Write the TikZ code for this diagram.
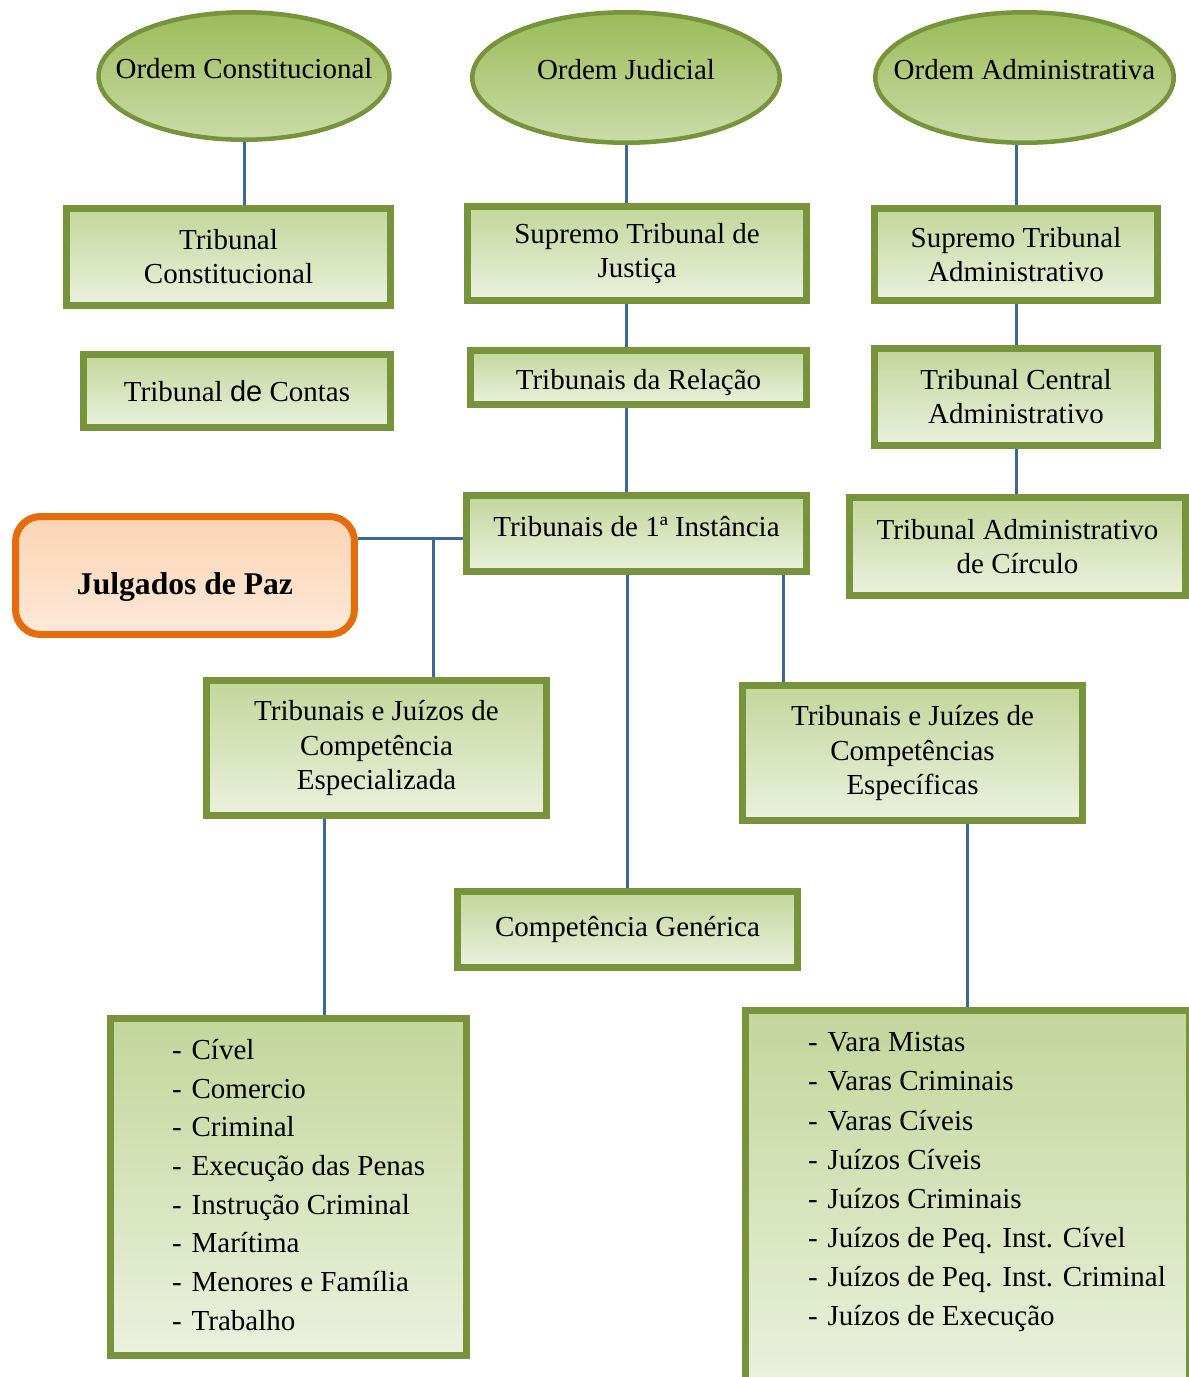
\documentclass[tikz,border=0pt]{standalone}
\usepackage{fontspec}
\setmainfont{Liberation Serif}
\newfontfamily\arialfont{Liberation Sans}
\usetikzlibrary{shapes,backgrounds}
\definecolor{verdeborda}{HTML}{77933C}
\definecolor{verdeclaro}{HTML}{EBF1DE}
\definecolor{verdemedio}{HTML}{C3D69B}
\definecolor{verdeescuro}{HTML}{9BBB59}
\definecolor{laranja}{HTML}{E46C0A}
\definecolor{laranjaclaro}{HTML}{FDE9D9}
\definecolor{laranjamedio}{HTML}{FBD4B4}
\definecolor{azul}{HTML}{3D669D}
\tikzstyle{ordem} = [ellipse, line width=0.09cm, draw=verdeborda, top color=verdeescuro, bottom color=verdemedio!80!verdeclaro, inner sep=0pt]
\tikzstyle{caixa} = [rectangle, line width=0.14cm, draw=verdeborda, top color=verdemedio, bottom color=verdeclaro, align=center]
\tikzstyle{lista} = [rectangle, line width=0.14cm, draw=verdeborda, top color=verdemedio, bottom color=verdeclaro, inner sep=0pt]
\tikzstyle{julgado} = [rectangle, rounded corners=0.5cm, line width=0.14cm, draw=laranja, top color=laranjamedio, bottom color=laranjaclaro, font=\fontsize{18}{22}\selectfont\bfseries]
\tikzstyle{linha} = [line width=0.06cm, draw=azul]

\begin{document}
\begin{tikzpicture}[x=0.02cm, y=-0.02cm, font=\fontsize{16.5}{19.4}\selectfont]
        \useasboundingbox (0,0) rectangle (1189,1377);
        \node (oc) [ordem, minimum width=5.82cm, minimum height=2.55cm] at (244,76) {\raisebox{-0.04cm}[0pt][0pt]{\makebox[0pt]{Ordem Constitucional}}};
        \node (oj) [ordem, minimum width=6.15cm, minimum height=2.61cm] at (626,77.5) {\raisebox{-0.04cm}[0pt][0pt]{\makebox[0pt]{Ordem Judicial}}};
        \node (oa) [ordem, minimum width=5.97cm, minimum height=2.61cm] at (1024.5,77.5) {\raisebox{-0.04cm}[0pt][0pt]{\makebox[0pt]{Ordem Administrativa}}};
        \node (tc) [caixa, minimum width=6.48cm, minimum height=1.94cm] at (228.5,257) {Tribunal\\Constitucional};
        \node (tcontas) [caixa, minimum width=6.14cm, minimum height=1.46cm] at (237,391) {Tribunal {\arialfont de} Contas};
        \node (stj) [caixa, minimum width=6.78cm, minimum height=1.88cm] at (637,253.5) {Supremo Tribunal de\\Justiça};
        \node (rel) [caixa, minimum width=6.72cm, minimum height=1.08cm, text height=0.49cm, text depth=0cm] at (638.5,377.5) {Tribunais da Relação};
        \node (inst1) [caixa, minimum width=6.80cm, minimum height=1.52cm, text height=0.4cm, text depth=0.27cm] at (636.5,533.5) {Tribunais de 1ª Instância};
        \node (sta) [caixa, minimum width=5.66cm, minimum height=1.84cm] at (1016,254.5) {Supremo Tribunal\\Administrativo};
        \node (tca) [caixa, minimum width=5.66cm, minimum height=1.94cm] at (1016,397) {Tribunal Central\\Administrativo};
        \node (tac) [caixa, minimum width=6.72cm, minimum height=1.96cm] at (1017.5,546.5) {Tribunal Administrativo\\de Círculo};
        \node (paz) [julgado, minimum width=6.78cm, minimum height=2.36cm] at (185,575.5) {\raisebox{-0.38cm}[0pt][0pt]{\makebox[0pt]{Julgados de Paz}}};
        \node (esp) [caixa, minimum width=6.80cm, minimum height=2.70cm] at (376.5,748) {Tribunais e Juízos de\\Competência\\Especializada};
        \node (espc) [caixa, minimum width=6.80cm, minimum height=2.70cm] at (912.5,753) {Tribunais e Juízes de\\Competências\\Específicas};
        \node (gen) [caixa, minimum width=6.80cm, minimum height=1.52cm] at (627.5,929.5) {Competência Genérica};
        \node (varesp) [lista, minimum width=7.12cm, minimum height=6.74cm, font=\fontsize{16.5}{22}\selectfont] at (288.5,1187) {\makebox[4.66cm][l]{\begin{tabular}{@{}l@{\hspace{0.2cm}}l@{}}
            - & Cível\\
            - & Comercio\\
            - & Criminal\\
            - & Execução das Penas\\
            - & Instrução Criminal\\
            - & Marítima\\
            - & Menores e Família\\
            - & Trabalho
        \end{tabular}}};
        \node (varespc) [lista, minimum width=8.88cm, minimum height=7.62cm, font=\fontsize{16.5}{22.3}\selectfont] at (967.5,1201) {\makebox[6.38cm][l]{\begin{tabular}{@{}l@{\hspace{0.2cm}}l@{}}
            - & Vara Mistas\\
            - & Varas Criminais\\
            - & Varas Cíveis\\
            - & Juízos Cíveis\\
            - & Juízos Criminais\\
            - & Juízos de Peq. Inst. Cível\\
            - & Juízos de Peq. Inst. Criminal\\
            - & Juízos de Execução\\[0.8cm]
        \end{tabular}}};
        \coordinate (ramo) at (433,538);
        \begin{scope}[on background layer]
        \draw [linha] (oc.south) -- (oc.south |- tc.north);
        \draw [linha] (oj.south) -- (oj.south |- stj.north);
        \draw [linha] (sta.north |- oa.south) -- (sta.north);
        \draw [linha] (stj.south -| oj.south) -- (rel.north -| oj.south);
        \draw [linha] (rel.south -| oj.south) -- (inst1.north -| oj.south);
        \draw [linha] (sta.south) -- (sta.south |- tca.north);
        \draw [linha] (tca.south) -- (tca.south |- tac.north);
        \draw [linha] ([yshift=-0.09cm]inst1.west) -- ([yshift=-0.09cm]inst1.west -| paz.east);
        \draw [linha] (ramo) -- (ramo |- esp.north);
        \draw [linha] ([xshift=-0.53cm]inst1.south east) -- ([xshift=-0.53cm]inst1.south east |- espc.north);
        \draw [linha] (gen.north) -- (gen.north |- inst1.south);
        \draw [linha] ([xshift=-1.05cm]esp.south) -- ([xshift=-1.05cm]esp.south |- varesp.north);
        \draw [linha] (varespc.north) -- (varespc.north |- espc.south);
        \end{scope}
    \end{tikzpicture}
\end{document}
